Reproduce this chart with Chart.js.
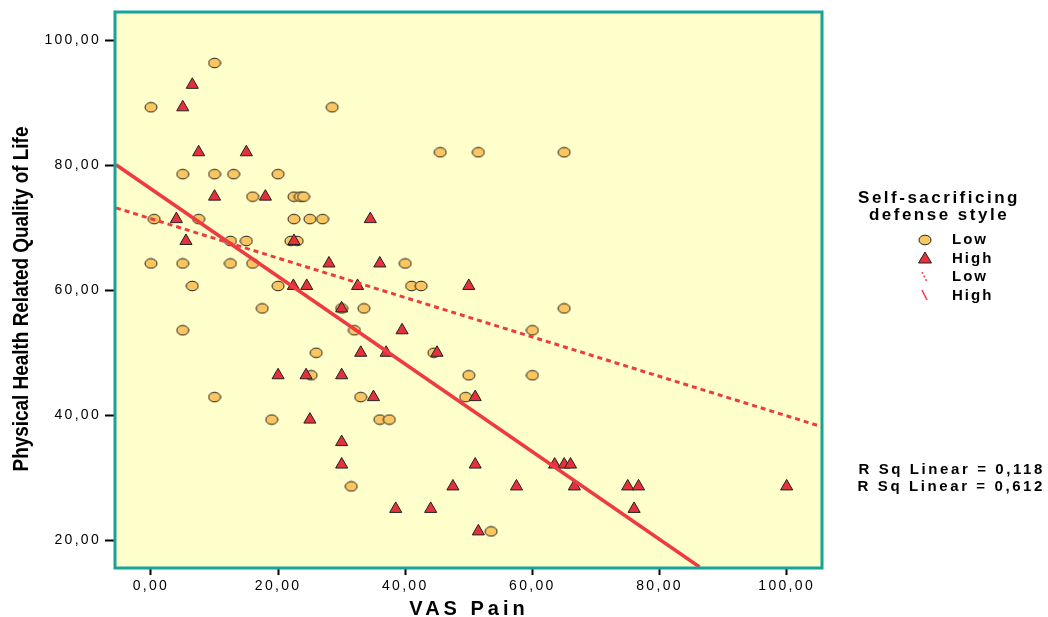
<!DOCTYPE html>
<html>
<head>
<meta charset="utf-8">
<script src="https://cdn.jsdelivr.net/npm/chart.js@4"></script>
<style>
  html, body { margin: 0; padding: 0; background: #fff; }
  #wrap { width: 1048px; height: 617px; }
</style>
</head>
<body>
<div id="wrap"><canvas id="scatter"></canvas></div>
<script>
// data
const lowX  = [10, 0, 28.5, 45.5, 51.5, 65, 5, 10, 13, 20, 16, 22.5, 23.5, 24, 0.5, 7.5, 22.5, 25, 27,
               12.5, 15, 22, 23, 0, 5, 12.5, 16, 40, 6.5, 20, 41, 42.5, 17.5, 30, 33.5, 65,
               5, 32, 60, 26, 44.5, 25.2, 50, 60, 10, 33, 49.5, 19, 36, 37.5, 31.5, 53.5];
const lowY  = [96.4, 89.3, 89.3, 82.1, 82.1, 82.1, 78.6, 78.6, 78.6, 78.6, 75, 75, 75, 75, 71.4, 71.4, 71.4, 71.4, 71.4,
               67.9, 67.9, 67.9, 67.9, 64.3, 64.3, 64.3, 64.3, 64.3, 60.7, 60.7, 60.7, 60.7, 57.1, 57.1, 57.1, 57.1,
               53.6, 53.6, 53.6, 50, 50, 46.4, 46.4, 46.4, 42.9, 42.9, 42.9, 39.3, 39.3, 39.3, 28.6, 21.4];
const highX = [6.5, 5, 7.5, 15, 10, 18, 4, 34.5, 5.5, 22.5, 28, 36, 22.4, 24.5, 32.5, 50, 30, 39.5,
               33, 37, 45, 20, 24.4, 30, 35, 51, 25, 30, 30, 51, 63.5, 65, 66,
               47.5, 57.5, 66.6, 75, 76.7, 100, 38.5, 44, 76, 51.5];
const highY = [92.9, 89.3, 82.1, 82.1, 75, 75, 71.4, 71.4, 67.9, 67.9, 64.3, 64.3, 60.7, 60.7, 60.7, 60.7, 57.1, 53.6,
               50, 50, 50, 46.4, 46.4, 46.4, 42.9, 42.9, 39.3, 35.7, 32.1, 32.1, 32.1, 32.1, 32.1,
               28.6, 28.6, 28.6, 28.6, 28.6, 28.6, 25, 25, 25, 21.4];
// fit lines (end points read at the plot edges)
const lowFitX  = [-5.5, 105.4];
const lowFitY  = [73.2, 38.2];
const highFitX = [-5.5, 86.3];
const highFitY = [80.1, 15.7];
const xTicks = [0, 20, 40, 60, 80, 100];
const yTicks = [20, 40, 60, 80, 100];
const rsqLabels = ['R Sq Linear = 0,118', 'R Sq Linear = 0,612'];

const pts = (xs, ys) => xs.map((x, i) => ({ x: x, y: ys[i] }));
const fmt = v => v.toFixed(2).replace('.', ',');

const ORANGE = '#fbc660';
const RED = '#e4313b';
const LINE = '#ee3a42';
const FONT = '"Liberation Sans", Arial, sans-serif';

// ellipse marker like the original
const ell = document.createElement('canvas');
ell.width = 14; ell.height = 12;
(function () {
  const c = ell.getContext('2d');
  c.beginPath();
  c.ellipse(7, 6, 6, 4.8, 0, 0, Math.PI * 2);
  c.fillStyle = ORANGE; c.fill();
  c.lineWidth = 1; c.strokeStyle = '#222'; c.stroke();
})();

function spaced(ctx, px) {
  if ('letterSpacing' in ctx) ctx.letterSpacing = px + 'px';
}

const frame = {
  id: 'frame',
  beforeDraw(chart) {
    // the old chart text is loosely spaced
    spaced(chart.ctx, 2.3);
  },
  beforeDatasetsDraw(chart) {
    const { ctx, chartArea: a } = chart;
    ctx.save();
    ctx.fillStyle = '#ffffcc';
    ctx.fillRect(a.left, a.top, a.right - a.left, a.bottom - a.top);
    ctx.restore();
  },
  afterDraw(chart) {
    const { ctx, chartArea: a } = chart;
    ctx.save();
    spaced(ctx, 0);
    ctx.strokeStyle = '#16a39b';
    ctx.lineWidth = 3;
    ctx.strokeRect(a.left - 1, a.top - 1, a.right - a.left + 2, a.bottom - a.top + 2);

    // axis titles
    ctx.fillStyle = '#000';
    ctx.textAlign = 'center';
    ctx.textBaseline = 'middle';
    spaced(ctx, 4);
    ctx.font = 'bold 20px ' + FONT;
    ctx.fillText('VAS Pain', 469, 609);
    spaced(ctx, 0);
    ctx.save();
    ctx.translate(22, 299);
    ctx.rotate(-Math.PI / 2);
    ctx.scale(0.86, 1);
    ctx.font = 'bold 22px ' + FONT;
    ctx.fillText('Physical Health Related Quality of Life', 0, 0);
    ctx.restore();

    // legend
    spaced(ctx, 2.5);
    ctx.font = 'bold 17px ' + FONT;
    ctx.fillText('Self-sacrificing', 939, 198);
    ctx.fillText('defense style', 939, 215);
    ctx.textAlign = 'left';
    spaced(ctx, 2);
    ctx.font = 'bold 15px ' + FONT;
    const items = ['Low', 'High', 'Low', 'High'];
    items.forEach((t, i) => ctx.fillText(t, 952, 240 + i * 18.5));
    ctx.drawImage(ell, 918, 234);
    ctx.beginPath();
    ctx.moveTo(925, 252); ctx.lineTo(931.5, 263); ctx.lineTo(918.5, 263); ctx.closePath();
    ctx.fillStyle = RED; ctx.fill();
    ctx.strokeStyle = '#222'; ctx.lineWidth = 1; ctx.stroke();
    ctx.strokeStyle = LINE; ctx.lineWidth = 1.5;
    ctx.setLineDash([2, 2]);
    ctx.beginPath(); ctx.moveTo(922, 272); ctx.lineTo(927, 282); ctx.stroke();
    ctx.setLineDash([]);
    ctx.beginPath(); ctx.moveTo(922, 290); ctx.lineTo(927, 300); ctx.stroke();

    // r squared
    ctx.fillStyle = '#000';
    ctx.textAlign = 'right';
    spaced(ctx, 2.6);
    ctx.font = 'bold 15px ' + FONT;
    ctx.fillText(rsqLabels[0], 1045, 470);
    ctx.fillText(rsqLabels[1], 1045, 487);
    ctx.restore();
  }
};

new Chart(document.getElementById('scatter'), {
  type: 'scatter',
  data: {
    datasets: [
      { label: 'Low', data: pts(lowX, lowY), pointStyle: ell, order: 3 },
      { label: 'High', data: pts(highX, highY), pointStyle: 'triangle', pointRadius: 7,
        backgroundColor: RED, borderColor: '#222', borderWidth: 1, order: 2 },
      { label: 'Low fit', data: pts(lowFitX, lowFitY), showLine: true, pointRadius: 0,
        borderColor: LINE, borderWidth: 3, borderDash: [5, 4], order: 1 },
      { label: 'High fit', data: pts(highFitX, highFitY), showLine: true, pointRadius: 0,
        borderColor: LINE, borderWidth: 3.5, order: 0 }
    ]
  },
  options: {
    responsive: true,
    maintainAspectRatio: false,
    animation: false,
    events: [],
    layout: { padding: { top: 13, right: 227, left: 0, bottom: 0 } },
    plugins: { legend: { display: false }, tooltip: { enabled: false } },
    scales: {
      x: {
        type: 'linear', min: -5.5, max: 105.4,
        afterBuildTicks: s => { s.ticks = xTicks.map(v => ({ value: v })); },
        afterFit: s => { s.height = 50; },
        grid: { drawOnChartArea: false, tickLength: 8, tickColor: '#000', tickWidth: 2 },
        border: { display: false },
        ticks: { color: '#000', padding: 3, maxRotation: 0,
                 font: { family: FONT, size: 14 },
                 callback: v => fmt(v) }
      },
      y: {
        type: 'linear', min: 15.7, max: 104.4,
        afterBuildTicks: s => { s.ticks = yTicks.map(v => ({ value: v })); },
        afterFit: s => { s.width = 116; },
        grid: { drawOnChartArea: false, tickLength: 11, tickColor: '#000', tickWidth: 2 },
        border: { display: false },
        ticks: { color: '#000', padding: 4,
                 font: { family: FONT, size: 14 },
                 callback: v => fmt(v) }
      }
    }
  },
  plugins: [frame]
});
</script>
</body>
</html>
